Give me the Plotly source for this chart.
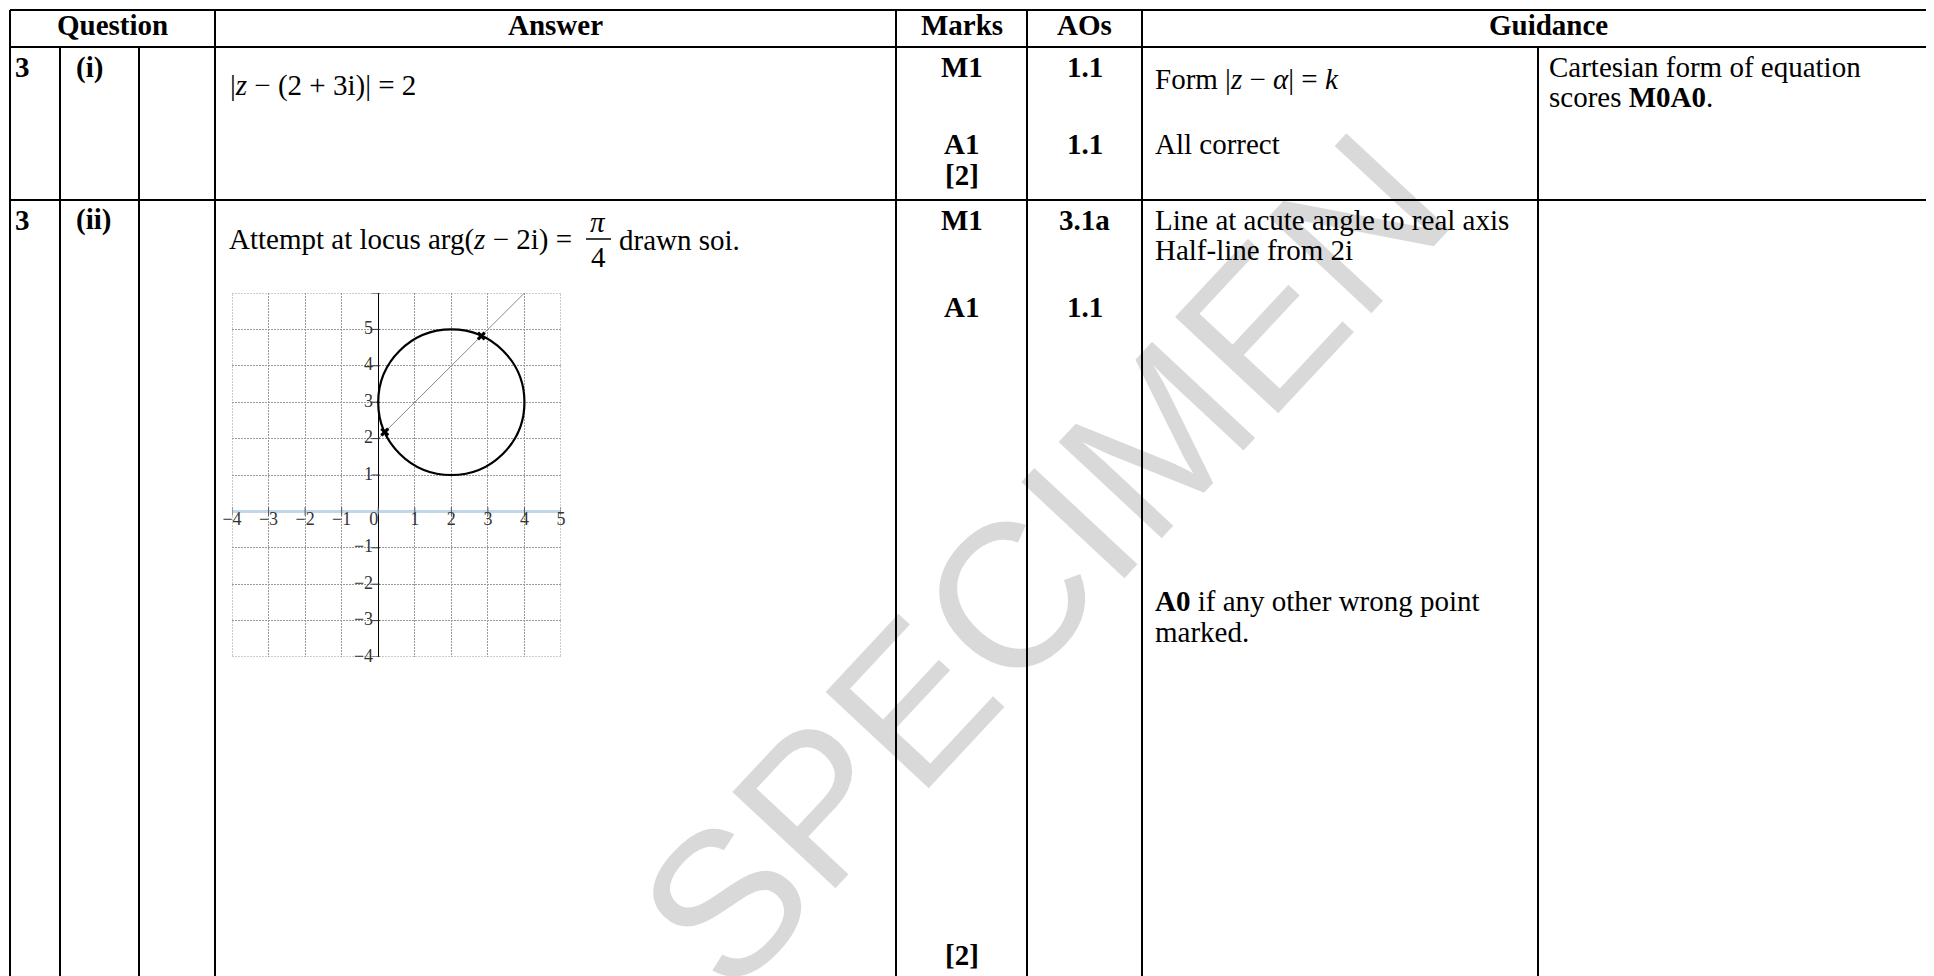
import plotly.graph_objects as go

W, H = 1934, 976

# ---- table text ----
HEADERS = ["Question", "Answer", "Marks", "AOs", "Guidance"]
QUESTION = ["3", "3"]
PARTS = ["(i)", "(ii)"]
ANSWER_I = "|<i>z</i> − (2 + 3i)| = 2"
ANSWER_II = ["Attempt at locus arg(<i>z</i> − 2i) =", "<i>π</i>", "4", "drawn soi."]
MARKS_I = ["M1", "A1", "[2]"]
AOS_I = ["1.1", "1.1"]
MARKS_II = ["M1", "A1", "[2]"]
AOS_II = ["3.1a", "1.1"]
GUIDANCE_I = ["Form |<i>z</i> − <i>α</i>| = <i>k</i>", "All correct"]
NOTES_I = ["Cartesian form of equation", "scores <b>M0A0</b>."]
GUIDANCE_II = ["Line at acute angle to real axis", "Half-line from 2i",
               "<b>A0</b> if any other wrong point", "marked."]
WATERMARK = "SPECIMEN"

# ---- Argand diagram ----
CENTRE = (2, 3)
RADIUS = 2
HALF_LINE_X = [0, 4]
HALF_LINE_Y = [2, 6]
MEET_X = [0.18, 2.82]
MEET_Y = [2.18, 4.82]
X_RANGE = [-4, 5]
Y_RANGE = [-4, 6]
X_TICKS = [-4, -3, -2, -1, 0, 1, 2, 3, 4, 5]
X_LABELS = ["−4", "−3", "−2", "−1", "0", "1", "2", "3", "4", "5"]
Y_TICKS = [-4, -3, -2, -1, 1, 2, 3, 4, 5, 6]
Y_LABELS = ["−4", "−3", "−2", "−1", "1", "2", "3", "4", "5", ""]

# layout in page pixels (the html body adds an 8px margin)
OFF = 8
COL = [10, 60, 139, 215, 896, 1027, 1142, 1538]
TOP, HEAD, ROW1 = 10, 47, 200
SERIF = "Liberation Serif, Times New Roman, serif"
LABEL_GAP = 0.14  # y-axis labels sit left of the tick dash


def px(x):
    return (x - OFF) / W


def py(y):
    return 1 - (y - OFF) / H


def txt(s, x, y, anchor="left", bold=False, size=29):
    return dict(text=f"<b>{s}</b>" if bold else s, x=px(x), y=py(y), xref="paper", yref="paper",
                xanchor=anchor, yanchor="middle", showarrow=False,
                font=dict(family=SERIF, size=size, color="black"))


def hline(y, x0, x1):
    return dict(type="line", xref="paper", yref="paper", x0=px(x0), x1=px(x1), y0=py(y), y1=py(y),
                line=dict(color="black", width=2))


def vline(x, y0, y1):
    return dict(type="line", xref="paper", yref="paper", x0=px(x), x1=px(x), y0=py(y0), y1=py(y1),
                line=dict(color="black", width=2))


fig = go.Figure()

fig.add_trace(go.Scatter(x=HALF_LINE_X, y=HALF_LINE_Y, mode="lines",
                         line=dict(color="#8a8a8a", width=1)))
fig.add_trace(go.Scatter(x=MEET_X, y=MEET_Y, mode="markers",
                         marker=dict(symbol="x", size=8, color="black")))
fig.add_trace(go.Scatter(x=X_TICKS, y=[0] * len(X_TICKS), mode="markers",
                         marker=dict(symbol="line-ns", size=6, line=dict(color="#555", width=1))))
fig.add_trace(go.Scatter(x=[-LABEL_GAP / 2] * len(Y_TICKS), y=Y_TICKS, mode="markers",
                         marker=dict(symbol="line-ew", size=6, line=dict(color="#333", width=1))))
fig.add_trace(go.Scatter(x=X_TICKS, y=[0] * len(X_TICKS), mode="text", text=X_LABELS,
                         textposition=["bottom left" if v == 0 else "bottom center" for v in X_TICKS],
                         textfont=dict(family=SERIF, size=18, color="#333"), cliponaxis=False))
fig.add_trace(go.Scatter(x=[-LABEL_GAP] * len(Y_TICKS), y=Y_TICKS, mode="text", text=Y_LABELS,
                         textposition="middle left",
                         textfont=dict(family=SERIF, size=18, color="#333"), cliponaxis=False))

shapes = [
    hline(TOP, COL[0], W + OFF), hline(HEAD, COL[0], W + OFF), hline(ROW1, COL[0], W + OFF),
    vline(COL[0], TOP, H + OFF), vline(COL[1], HEAD, H + OFF), vline(COL[2], HEAD, H + OFF),
    vline(COL[3], TOP, H + OFF), vline(COL[4], TOP, H + OFF), vline(COL[5], TOP, H + OFF),
    vline(COL[6], TOP, H + OFF), vline(COL[7], HEAD, H + OFF),
    # fraction bar of pi/4
    dict(type="line", xref="paper", yref="paper", x0=px(586), x1=px(611), y0=py(239), y1=py(239),
         line=dict(color="black", width=1.5)),
    # dashed frame of the diagram
    dict(type="rect", xref="x", yref="y", x0=X_RANGE[0], x1=X_RANGE[1], y0=Y_RANGE[0], y1=Y_RANGE[1],
         line=dict(color="#9a9a9a", width=1, dash="2px,1px"), layer="below"),
    dict(type="circle", xref="x", yref="y",
         x0=CENTRE[0] - RADIUS, x1=CENTRE[0] + RADIUS, y0=CENTRE[1] - RADIUS, y1=CENTRE[1] + RADIUS,
         line=dict(color="black", width=2.2)),
]

anns = [dict(text=WATERMARK, x=px(1043), y=py(560), xref="paper", yref="paper", showarrow=False,
             textangle=-47, font=dict(family="Liberation Sans, Arial", size=205, color="rgba(0,0,0,0.15)"))]
head_y = 25
anns += [
    txt(HEADERS[0], (COL[0] + COL[3]) / 2, head_y, "center", True),
    txt(HEADERS[1], (COL[3] + COL[4]) / 2, head_y, "center", True),
    txt(HEADERS[2], (COL[4] + COL[5]) / 2, head_y, "center", True),
    txt(HEADERS[3], (COL[5] + COL[6]) / 2, head_y, "center", True),
    txt(HEADERS[4], 1548, head_y, "center", True),
]

mk = (COL[4] + COL[5]) / 2
ao = (COL[5] + COL[6]) / 2
# row (i)
anns += [
    txt(QUESTION[0], 13, 67, bold=True), txt(PARTS[0], 74, 67, bold=True),
    txt(ANSWER_I, 228, 85),
    txt(MARKS_I[0], mk, 67, "center", True), txt(MARKS_I[1], mk, 144, "center", True),
    txt(MARKS_I[2], mk, 175, "center", True),
    txt(AOS_I[0], ao, 67, "center", True), txt(AOS_I[1], ao, 144, "center", True),
    txt(GUIDANCE_I[0], 1153, 79), txt(GUIDANCE_I[1], 1153, 144),
    txt(NOTES_I[0], 1547, 67), txt(NOTES_I[1], 1547, 97),
]
# row (ii)
anns += [
    txt(QUESTION[1], 13, 220, bold=True), txt(PARTS[1], 74, 220, bold=True),
    txt(ANSWER_II[0], 227, 240), txt(ANSWER_II[1], 598, 222, "center"),
    txt(ANSWER_II[2], 598, 257, "center"), txt(ANSWER_II[3], 617, 240),
    txt(MARKS_II[0], mk, 220, "center", True), txt(MARKS_II[1], mk, 307, "center", True),
    txt(MARKS_II[2], mk, 955, "center", True),
    txt(AOS_II[0], ao, 220, "center", True), txt(AOS_II[1], ao, 307, "center", True),
    txt(GUIDANCE_II[0], 1153, 220), txt(GUIDANCE_II[1], 1153, 250),
    txt(GUIDANCE_II[2], 1153, 601), txt(GUIDANCE_II[3], 1153, 632),
]

grid = dict(showgrid=True, gridcolor="#9a9a9a", gridwidth=1, griddash="2px,1px", dtick=1, tick0=0,
            showticklabels=False, ticks="", showline=False, fixedrange=True)
fig.update_layout(
    width=W, height=H, margin=dict(l=0, r=0, t=0, b=0),
    paper_bgcolor="white", plot_bgcolor="white", showlegend=False,
    xaxis=dict(domain=[px(232), px(561)], range=X_RANGE, zeroline=True, zerolinecolor="black",
               zerolinewidth=1.2, **grid),
    yaxis=dict(domain=[py(657), py(293)], range=Y_RANGE, zeroline=True, zerolinecolor="#c2d6ea",
               zerolinewidth=2.5, **grid),
    shapes=shapes,
    annotations=anns,
)

fig.write_html("out.html")
